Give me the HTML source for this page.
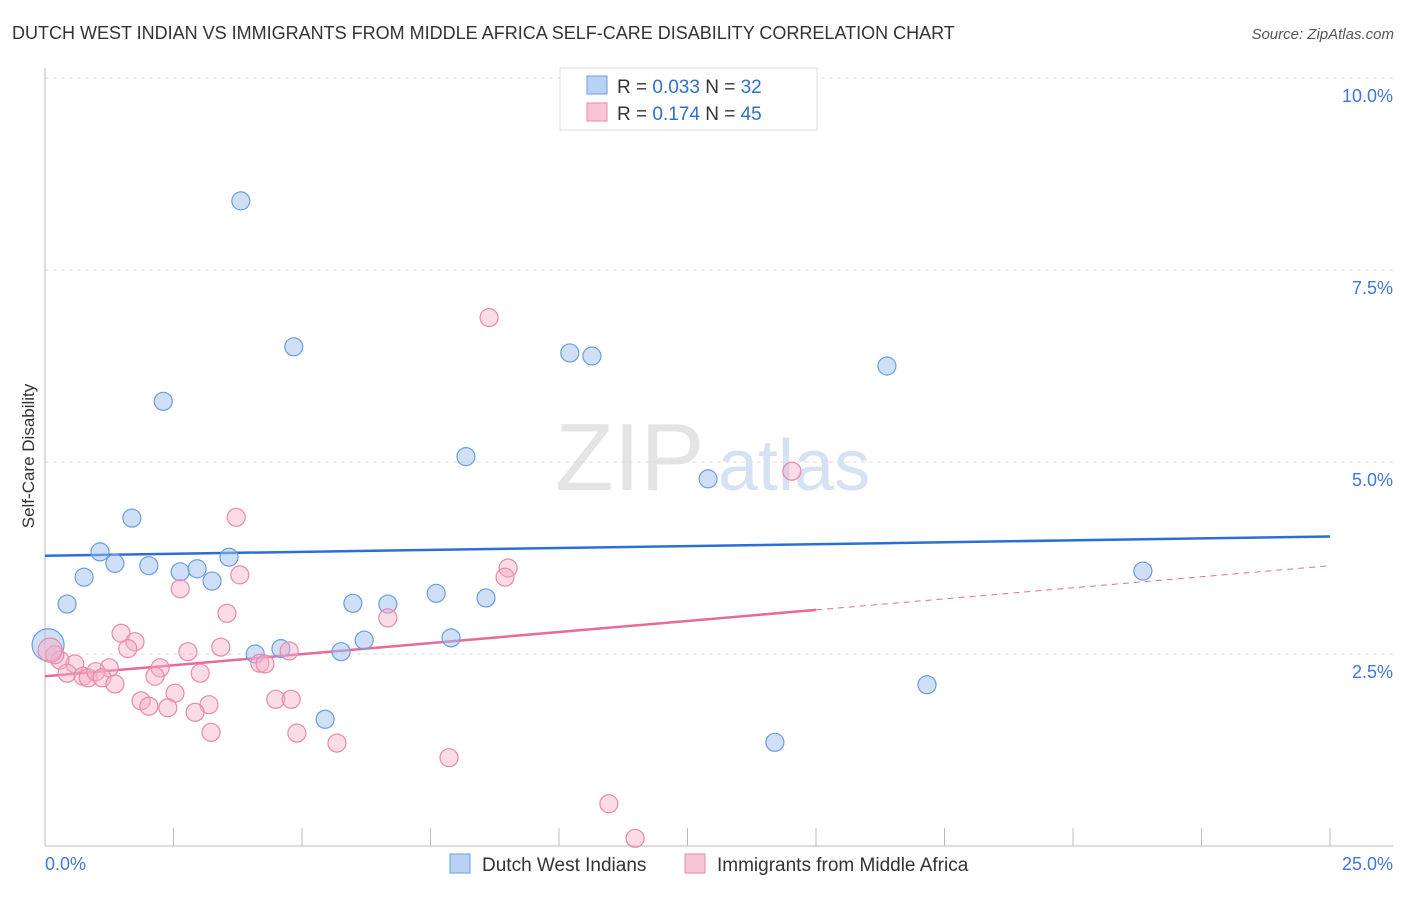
<!DOCTYPE html>
<html><head><meta charset="utf-8"><style>
body{margin:0;background:#fff;font-family:"Liberation Sans",sans-serif;}
svg text{font-family:"Liberation Sans",sans-serif;}
</style></head><body>
<svg id="c" width="1406" height="892">
<text x="12" y="39" font-size="18" fill="#333">DUTCH WEST INDIAN VS IMMIGRANTS FROM MIDDLE AFRICA SELF-CARE DISABILITY CORRELATION CHART</text>
<text x="1394" y="39" font-size="15" fill="#555" text-anchor="end" font-style="italic">Source: ZipAtlas.com</text>
<text x="555" y="490" font-size="96" fill="#e4e4e4" font-family="Liberation Serif">ZIP</text>
<text x="718" y="490" font-size="72" fill="#d5e2f3">atlas</text>
<text transform="translate(34,456) rotate(-90)" font-size="17" fill="#333" text-anchor="middle">Self-Care Disability</text>
<g id="grid"></g><g id="axes"></g><g id="trend"></g><g id="pts"></g>
<g>
<rect x="560" y="68" width="257" height="62" fill="#fff" stroke="#ddd"/>
<rect x="587" y="76" width="20" height="18" fill="#b9d1f3" stroke="#6a9de0"/>
<rect x="587" y="103" width="20" height="18" fill="#f8c5d5" stroke="#e88aa8"/>
<text x="617" y="93" font-size="19" fill="#333">R = <tspan fill="#2f6fd0">0.033</tspan>    N = <tspan fill="#2f6fd0">32</tspan></text>
<text x="617" y="120" font-size="19" fill="#333">R =  <tspan fill="#2f6fd0">0.174</tspan>    N = <tspan fill="#2f6fd0">45</tspan></text>
</g>
<g>
<rect x="450" y="854" width="20" height="19" fill="#b9d1f3" stroke="#6a9de0"/>
<text x="482" y="871" font-size="19" fill="#333">Dutch West Indians</text>
<rect x="685" y="854" width="20" height="19" fill="#f8c5d5" stroke="#e88aa8"/>
<text x="717" y="871" font-size="19" fill="#333">Immigrants from Middle Africa</text>
</g>
</svg>
<script>
const yTicks=[2.5,5.0,7.5,10.0];
const xTickLabels=["0.0%","25.0%"];
const blueX=[3.81,4.84,2.30,10.21,10.64,16.38,8.19,12.90,1.69,1.07,1.36,2.02,0.76,2.63,2.96,3.25,3.58,0.43,5.99,6.67,7.61,8.58,7.90,6.21,5.76,4.09,4.59,5.45,14.20,17.16,21.36,0.06];
const blueY=[8.40,6.50,5.79,6.42,6.38,6.25,5.07,4.78,4.27,3.83,3.68,3.65,3.50,3.57,3.61,3.45,3.76,3.15,3.16,3.15,3.29,3.23,2.71,2.68,2.53,2.50,2.57,1.65,1.35,2.10,3.58,2.62];
const pinkX=[8.64,14.53,3.72,3.79,2.63,3.54,9.01,8.95,6.67,1.48,1.75,1.61,3.42,2.78,4.75,4.18,4.28,2.24,1.25,3.02,0.58,0.29,0.19,0.43,0.74,0.84,0.99,1.11,1.36,2.14,2.53,1.87,2.02,2.39,3.19,2.92,4.49,4.79,3.23,4.90,5.68,7.86,10.97,11.48,0.10];
const pinkY=[6.88,4.88,4.28,3.53,3.35,3.03,3.62,3.50,2.97,2.77,2.66,2.57,2.59,2.53,2.54,2.38,2.37,2.32,2.32,2.25,2.37,2.42,2.49,2.25,2.21,2.19,2.27,2.19,2.11,2.21,1.99,1.89,1.82,1.80,1.84,1.74,1.91,1.91,1.48,1.47,1.34,1.15,0.55,0.10,2.55];
const blueTrend=[3.78,4.03];
const pinkTrend=[2.21,3.65];
const pinkSolidEnd=15;
const NS="http://www.w3.org/2000/svg";
const X=v=>45+v/25*1285, Y=v=>846-v/2.5*192;
function mk(t,a,p){const e=document.createElementNS(NS,t);for(const k in a)e.setAttribute(k,a[k]);p.appendChild(e);return e;}
const grid=document.getElementById('grid'),axes=document.getElementById('axes'),trend=document.getElementById('trend'),pts=document.getElementById('pts');
yTicks.forEach(t=>{
 const l=mk('line',{x1:45,x2:1393,y1:Y(t),y2:Y(t),stroke:'#ddd','stroke-dasharray':'4,4'},grid);
 
 
 const tx=mk('text',{x:1393,y:Y(t)+24,'font-size':18,fill:'#3d78d8','text-anchor':'end'},grid);
 tx.textContent=t.toFixed(1)+'%';
 
 
});
const ya=mk('line',{x1:45,x2:45,y1:68,y2:846,stroke:'#bbb'},axes);


const xa=mk('line',{x1:45,x2:1393,y1:846,y2:846,stroke:'#bbb'},axes);


for(let i=0;i<=10;i++){const tk=mk('line',{x1:X(i*2.5),x2:X(i*2.5),y1:828,y2:846,stroke:'#bbb'},axes);
 
 }
const xl0=mk('text',{x:45,y:870,'font-size':18,fill:'#3d78d8'},axes);xl0.textContent=xTickLabels[0];


const xl1=mk('text',{x:1393,y:870,'font-size':18,fill:'#3d78d8','text-anchor':'end'},axes);xl1.textContent=xTickLabels[1];


const bt=mk('line',{x1:X(0),x2:X(25),y1:Y(blueTrend[0]),y2:Y(blueTrend[1]),stroke:'#2a6fd6','stroke-width':2.5},trend);


const pm=pinkTrend[0]+(pinkTrend[1]-pinkTrend[0])*pinkSolidEnd/25;
const pt=mk('line',{x1:X(0),x2:X(pinkSolidEnd),y1:Y(pinkTrend[0]),y2:Y(pm),stroke:'#e8699a','stroke-width':2.5},trend);


const pd=mk('line',{x1:X(pinkSolidEnd),x2:X(25),y1:Y(pm),y2:Y(pinkTrend[1]),stroke:'#e8699a','stroke-width':1,'stroke-dasharray':'6,5'},trend);


blueX.forEach((x,i)=>{const c=mk('circle',{cx:X(x),cy:Y(blueY[i]),r:i==blueX.length-1?16:9,fill:'rgba(160,192,238,0.5)',stroke:'#6a9de0','stroke-width':1.2},pts);
 
 });
pinkX.forEach((x,i)=>{const c=mk('circle',{cx:X(x),cy:Y(pinkY[i]),r:i==pinkX.length-1?12:9,fill:'rgba(244,176,200,0.45)',stroke:'#e88aa8','stroke-width':1.2},pts);
 
 });
</script>
</body></html>
